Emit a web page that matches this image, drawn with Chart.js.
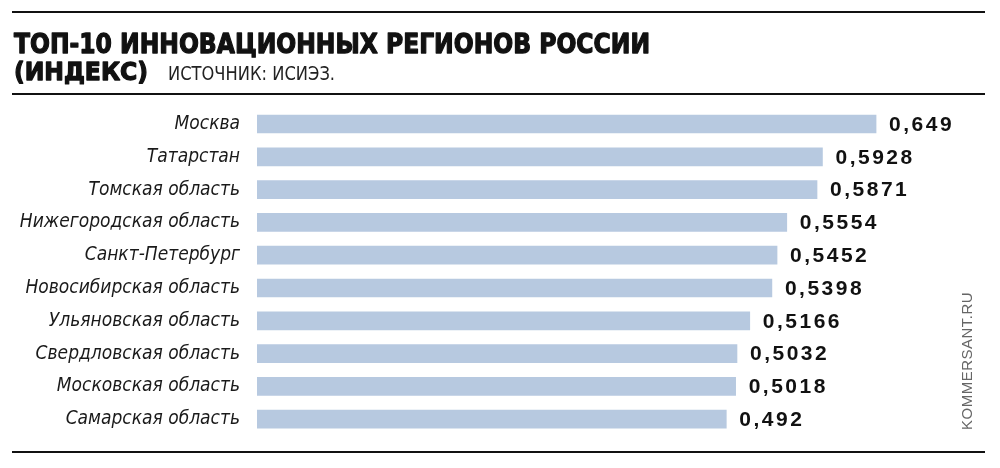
<!DOCTYPE html>
<html>
<head>
<meta charset="utf-8">
<script src="https://cdn.jsdelivr.net/npm/chart.js@4"></script>
<style>
  html, body { margin: 0; background: #fff; }
  #chart { display: block; }
</style>
</head>
<body>
<canvas id="chart" width="1000" height="468"></canvas>
<script>
const regions = [
  'Москва',
  'Татарстан',
  'Томская область',
  'Нижегородская область',
  'Санкт-Петербург',
  'Новосибирская область',
  'Ульяновская область',
  'Свердловская область',
  'Московская область',
  'Самарская область'
];
const values = [0.649, 0.5928, 0.5871, 0.5554, 0.5452, 0.5398, 0.5166, 0.5032, 0.5018, 0.492];

const titleLine1 = 'ТОП-10 ИННОВАЦИОННЫХ РЕГИОНОВ РОССИИ';
const titleLine2 = '(ИНДЕКС)';
const sourceText = 'ИСТОЧНИК: ИСИЭЗ.';
const watermark = 'KOMMERSANT.RU';

const narrow = '"Liberation Sans Narrow", "DejaVu Sans Condensed", "Liberation Sans", sans-serif';

// stretch or squeeze a string horizontally so it fits a given width
function fitText(ctx, text, x, y, width, stroke) {
  const w = ctx.measureText(text).width;
  ctx.save();
  ctx.translate(x, y);
  ctx.scale(width / w, 1);
  ctx.fillText(text, 0, 0);
  if (stroke) ctx.strokeText(text, 0, 0);
  ctx.restore();
}

// frame, title, value labels and the vertical watermark
const decor = {
  id: 'decor',
  afterDraw(chart) {
    const ctx = chart.ctx;
    ctx.save();

    ctx.fillStyle = '#111';
    [11, 93, 451].forEach(y => ctx.fillRect(12, y, 973, 2));

    ctx.textBaseline = 'alphabetic';
    ctx.textAlign = 'left';
    ctx.strokeStyle = '#111';
    ctx.lineWidth = 1.3;
    ctx.lineJoin = 'round';
    ctx.font = 'bold 27px "DejaVu Sans", sans-serif';
    fitText(ctx, titleLine1, 14, 53, 636, true);
    ctx.font = 'bold 25px "DejaVu Sans", sans-serif';
    fitText(ctx, titleLine2, 14, 80, 134, true);
    ctx.font = '19px ' + narrow;
    ctx.fillStyle = '#222';
    fitText(ctx, sourceText, 168, 80, 167, false);

    // values right of each bar
    const meta = chart.getDatasetMeta(0);
    ctx.fillStyle = '#111';
    ctx.font = 'bold 21px "Liberation Sans", Arial, sans-serif';
    ctx.letterSpacing = '2.5px';
    ctx.textBaseline = 'middle';
    meta.data.forEach((bar, i) => {
      ctx.fillText(String(values[i]).replace('.', ','), bar.x + 13, bar.y + 1);
    });
    ctx.letterSpacing = '0px';

    ctx.translate(968, 430);
    ctx.rotate(-Math.PI / 2);
    ctx.font = '15px "Liberation Sans", Arial, sans-serif';
    ctx.fillStyle = '#666';
    ctx.textBaseline = 'middle';
    ctx.letterSpacing = '0.5px';
    ctx.fillText(watermark, 0, 0);

    ctx.restore();
  }
};

new Chart(document.getElementById('chart'), {
  type: 'bar',
  data: {
    labels: regions,
    datasets: [{
      data: values,
      backgroundColor: '#b7c9e0',
      borderWidth: 0,
      barThickness: 18
    }]
  },
  options: {
    indexAxis: 'y',
    responsive: false,
    animation: false,
    layout: { padding: { left: 0, top: 107.6, bottom: 32.4, right: 40 } },
    plugins: {
      legend: { display: false },
      tooltip: { enabled: false }
    },
    scales: {
      x: { display: false, min: 0, max: 0.737 },
      y: {
        grid: { display: false, drawTicks: false },
        border: { display: false },
        ticks: {
          padding: 17,
          color: '#1a1a1a',
          font: { family: narrow, size: 19, style: 'italic' }
        },
        afterFit(scale) { scale.width = 257; }
      }
    }
  },
  plugins: [decor]
});
</script>
</body>
</html>
